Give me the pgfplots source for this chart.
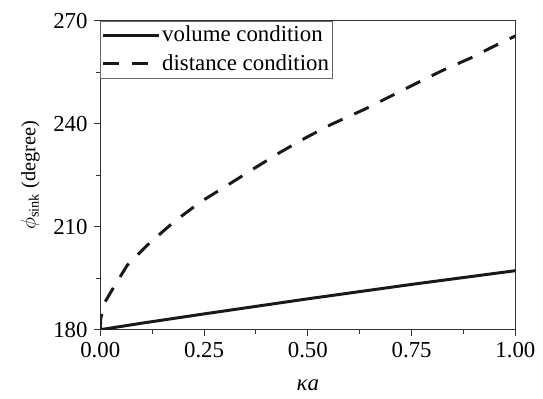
\documentclass[border=0pt]{standalone}
\usepackage{amsmath}
\usepackage{pgfplots}
\pgfplotsset{compat=1.18}
\usepackage{fontspec}
\setmainfont{Liberation Serif}
\begin{document}
\fontsize{23pt}{27pt}\selectfont
\begin{tikzpicture}
\begin{axis}[
  scale only axis,
  width=418pt, height=311pt,
  xmin=0, xmax=1, ymin=180, ymax=270,
  xtick={0,0.25,0.5,0.75,1},
  minor xtick={0.125,0.375,0.625,0.875},
  ytick={180,210,240,270},
  minor ytick={195,225,255},
  tick align=outside,
  major tick length=6pt,
  minor tick length=4pt,
  xtick pos=bottom, ytick pos=left,
  axis line style={line width=1pt, black!80},
  every tick/.style={line width=1pt, black!80},
  /pgf/number format/assume math mode=true,
  xticklabel style={/pgf/number format/fixed, /pgf/number format/fixed zerofill, /pgf/number format/precision=2, font=\fontsize{23pt}{27pt}\selectfont, yshift=1pt},
  yticklabel style={font=\fontsize{23pt}{27pt}\selectfont, xshift=1pt},
  xlabel={\textit{κa}},
  ylabel={$\phi_{\text{sink}}$ (degree)},
  xlabel style={font=\fontsize{23pt}{27pt}\selectfont, yshift=-6pt},
  ylabel style={font=\fontsize{20.5pt}{24pt}\selectfont, yshift=-2pt},
  legend style={at={(0,1)}, anchor=north west, draw=black!60, line width=0.6pt,
    font=\fontsize{23pt}{26pt}\selectfont, inner xsep=1pt, inner ysep=3pt, row sep=5pt,
    legend cell align=left},
  legend image code/.code={\draw[#1] (0pt,0pt) -- (56pt,0pt);},
]
\addplot[black!90, line width=3pt] coordinates {
 (0,180) (0.1,181.9) (0.25,184.6) (0.5,189.0) (0.75,193.2) (1,197.2)
};
\addlegendentry{volume condition}
\addplot[black!90, line width=3pt, dash pattern=on 16pt off 13pt] coordinates {
 (0,180) (0.001,183.2) (0.0096,187.7) (0.026,191.1) (0.065,198.8) (0.113,204.6)
 (0.177,211.4) (0.241,217.2) (0.305,222.0) (0.368,226.8) (0.432,231.6)
 (0.496,236.0) (0.556,239.8) (0.636,244.2) (0.699,248.0) (0.763,251.9)
 (0.827,255.7) (0.891,259.1) (0.955,263.0) (1.0,265.6)
};
\addlegendentry{distance condition}
\end{axis}
\path (current axis.south west) ++(-101pt,-69pt) rectangle ++(543pt,401pt);
\end{tikzpicture}
\end{document}
